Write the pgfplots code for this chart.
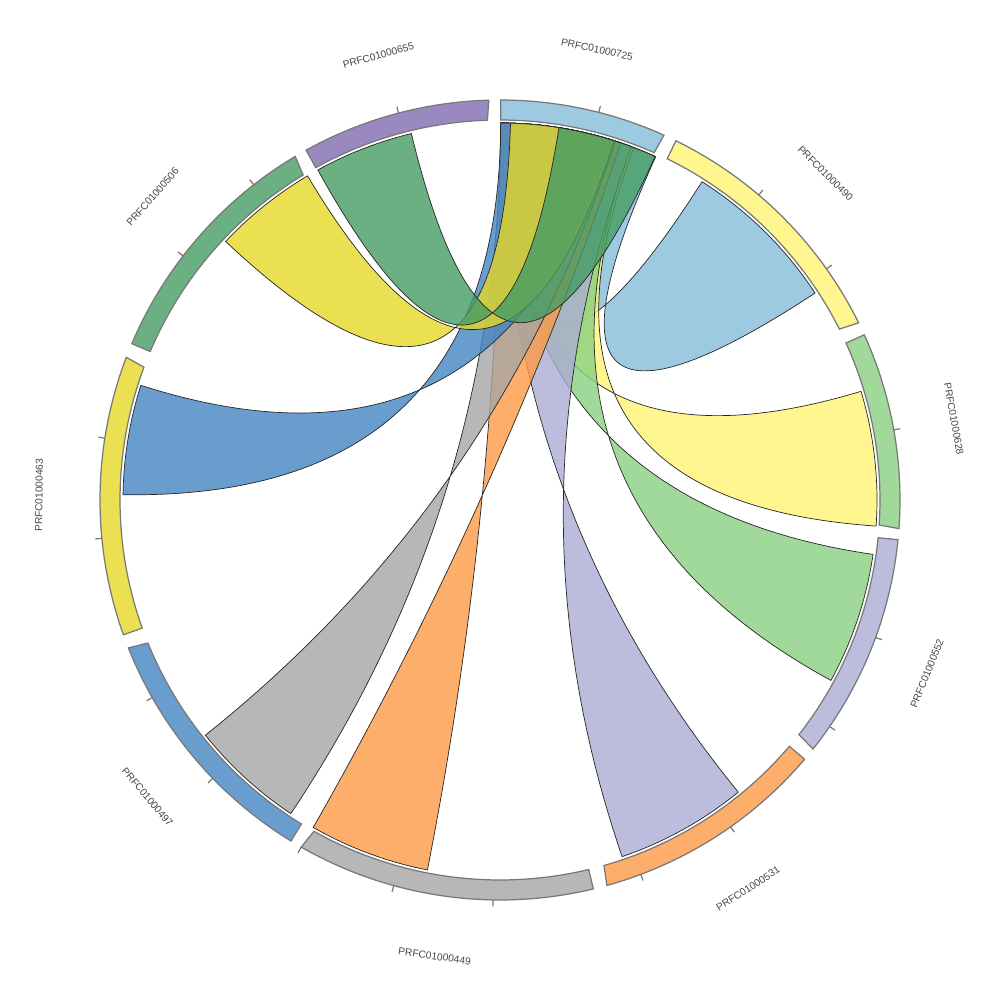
\documentclass[border=0pt]{standalone}
\usepackage{fontspec}
\setmainfont{Liberation Sans}
\usepackage{pgfplots}
\pgfplotsset{compat=1.18}
% sector colours (opaque)
\definecolor{s725}{RGB}{158,202,225}
\definecolor{s490}{RGB}{255,246,143}
\definecolor{s628}{RGB}{161,217,155}
\definecolor{s552}{RGB}{188,189,220}
\definecolor{s531}{RGB}{253,174,107}
\definecolor{s449}{RGB}{183,183,183}
\definecolor{s497}{RGB}{104,157,205}
\definecolor{s463}{RGB}{234,224,82}
\definecolor{s506}{RGB}{106,176,130}
\definecolor{s655}{RGB}{154,137,193}
% chord colours (drawn at 80% opacity)
\definecolor{c725}{RGB}{134,189,218}
\definecolor{c490}{RGB}{255,244,115}
\definecolor{c628}{RGB}{138,208,130}
\definecolor{c552}{RGB}{171,173,211}
\definecolor{c531}{RGB}{252,154,70}
\definecolor{c449}{RGB}{165,165,165}
\definecolor{c497}{RGB}{66,133,193}
\definecolor{c463}{RGB}{229,216,39}
\definecolor{c506}{RGB}{69,156,99}
\definecolor{segedge}{RGB}{120,120,120}
\definecolor{lbl}{RGB}{70,70,70}

% sector: start angle, end angle, colour
\newcommand{\sector}[3]{%
\addplot[fill=#3, draw=segedge, line width=0.35pt, domain=0:2, samples=181, variable=\t]
({((\t<1) ? 4.0*cos((#1)+((#2)-(#1))*\t) : 3.8*cos((#2)+((#1)-(#2))*(\t-1)))},
 {((\t<1) ? 4.0*sin((#1)+((#2)-(#1))*\t) : 3.8*sin((#2)+((#1)-(#2))*(\t-1)))}) -- cycle;}

% ribbon: a_start, a_end, b_start, b_end, colour
\newcommand{\ribbon}[5]{%
\addplot[fill=#5, fill opacity=0.8, draw=black!85, line width=0.2pt, domain=0:4, samples=401, variable=\t]
({3.77*((\t<1) ? cos((#1)+((#2)-(#1))*\t) : ((\t<2) ? ((2-\t)*(2-\t)*cos(#2)+(\t-1)*(\t-1)*cos(#4)) : ((\t<3) ? cos((#4)+((#3)-(#4))*(\t-2)) : ((4-\t)*(4-\t)*cos(#3)+(\t-3)*(\t-3)*cos(#1)))))},
 {3.77*((\t<1) ? sin((#1)+((#2)-(#1))*\t) : ((\t<2) ? ((2-\t)*(2-\t)*sin(#2)+(\t-1)*(\t-1)*sin(#4)) : ((\t<3) ? sin((#4)+((#3)-(#4))*(\t-2)) : ((4-\t)*(4-\t)*sin(#3)+(\t-3)*(\t-3)*sin(#1)))))}) -- cycle;}

% tick at angle
\newcommand{\tk}[1]{%
\addplot[draw=segedge, line width=0.35pt, domain=4.0:4.065, samples=2, variable=\r]
({\r*cos(#1)},{\r*sin(#1)});}

% label: angle, rotation, text
\newcommand{\lab}[3]{%
\node[text=lbl, rotate=#2, inner sep=0pt, font=\fontsize{2.9}{3.5}\selectfont]
 at (axis cs:{4.61*cos(#1)},{4.61*sin(#1)}) {#3};}

\begin{document}
\begin{tikzpicture}
\begin{axis}[scale only axis, width=10cm, height=10cm,
  xmin=-5, xmax=5, ymin=-5, ymax=5, hide axis, clip=false]
% chords
\ribbon{57.6}{33.3}{89.9}{65.6}{c725}
\ribbon{16.75}{-3.97}{89.9}{69.2}{c490}
\ribbon{-8.3}{-28.6}{89.9}{69.6}{c628}
\ribbon{-50.8}{-71.1}{89.9}{69.6}{c552}
\ribbon{-101.1}{-119.7}{89.9}{71.3}{c531}
\ribbon{-123.7}{-141.4}{89.9}{72.2}{c449}
\ribbon{179.2}{162.3}{89.9}{73.0}{c497}
\ribbon{136.7}{120.7}{88.4}{72.4}{c463}
\ribbon{118.9}{103.6}{81.0}{65.7}{c506}
% sectors
\sector{89.9}{65.8}{s725}
\sector{63.9}{26.3}{s490}
\sector{24.4}{-4.1}{s628}
\sector{-5.7}{-38.5}{s552}
\sector{-40.4}{-74.5}{s531}
\sector{-76.5}{-119.8}{s449}
\sector{-121.5}{-158.3}{s497}
\sector{-160.3}{-200.9}{s463}
\sector{157.0}{120.8}{s506}
\sector{119.0}{91.6}{s655}
% ticks
\tk{75.7}
\tk{49.7}\tk{35.3}
\tk{10.1}
\tk{-20.1}\tk{-34.5}
\tk{-54.8}\tk{-69.4}
\tk{-91.0}\tk{-105.4}\tk{-119.8}
\tk{-135.9}\tk{-150.4}
\tk{-174.5}\tk{171.1}
\tk{142.4}\tk{128.0}
\tk{104.7}
% labels
\lab{77.85}{-12.15}{PRFC01000725}
\lab{45.1}{-44.9}{PRFC01000490}
\lab{10.15}{-79.85}{PRFC01000628}
\lab{-22.1}{67.9}{PRFC01000552}
\lab{-57.45}{32.55}{PRFC01000531}
\lab{-98.15}{-8.15}{PRFC01000449}
\lab{-139.9}{-49.9}{PRFC01000497}
\lab{179.4}{89.4}{PRFC01000463}
\lab{138.9}{48.9}{PRFC01000506}
\lab{105.3}{15.3}{PRFC01000655}
\end{axis}
\pgfresetboundingbox
\path (current axis.south west) rectangle (current axis.north east);
\end{tikzpicture}
\end{document}
